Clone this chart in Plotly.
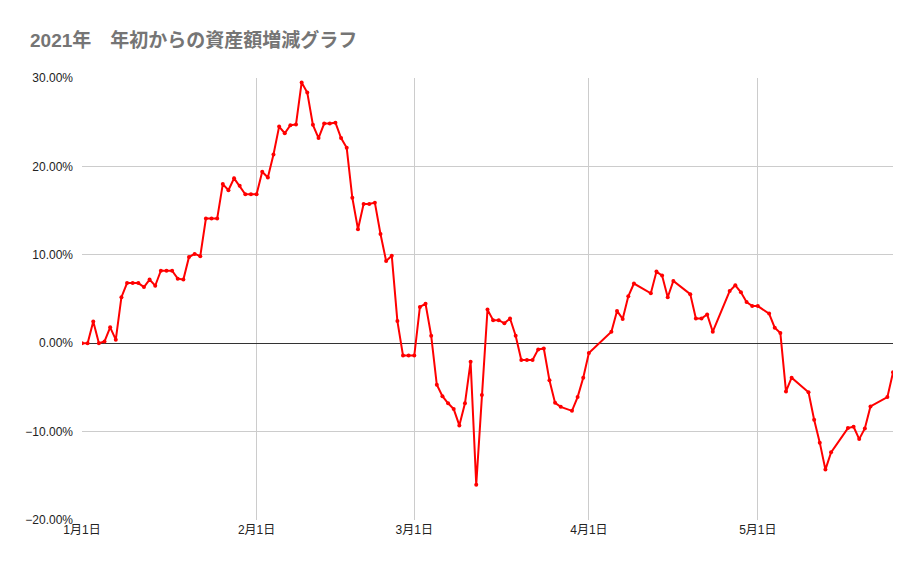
import pandas as pd
import plotly.graph_objs as go

# 2021 dates (some days missing in the source sheet)
dates = (
    pd.date_range('2021-01-01', '2021-03-27').strftime('%Y-%m-%d').tolist()
    + pd.date_range('2021-03-29', '2021-04-01').strftime('%Y-%m-%d').tolist()
    + ['2021-04-05', '2021-04-06', '2021-04-07', '2021-04-08', '2021-04-09',
       '2021-04-12', '2021-04-13', '2021-04-14', '2021-04-15', '2021-04-16',
       '2021-04-19', '2021-04-20', '2021-04-21', '2021-04-22', '2021-04-23',
       '2021-04-26', '2021-04-27', '2021-04-28', '2021-04-29', '2021-04-30',
       '2021-05-01', '2021-05-03', '2021-05-04', '2021-05-05', '2021-05-06',
       '2021-05-07', '2021-05-10', '2021-05-11', '2021-05-12', '2021-05-13',
       '2021-05-14', '2021-05-17', '2021-05-18', '2021-05-19', '2021-05-20',
       '2021-05-21', '2021-05-24', '2021-05-25']
)

# change in assets since Jan 1 (%)
jan = [0, 0, 2.45, 0, 0.2, 1.8, 0.4, 5.2, 6.8, 6.8, 6.8, 6.35, 7.2, 6.5, 8.2, 8.2,
       8.2, 7.3, 7.2, 9.75, 10.1, 9.85, 14.1, 14.1, 14.1, 18.0, 17.3, 18.65, 17.8,
       16.85, 16.85]
feb = [16.85, 19.4, 18.75, 21.35, 24.5, 23.75, 24.65, 24.75, 29.5, 28.35, 24.7,
       23.2, 24.85, 24.85, 24.95, 23.2, 22.1, 16.45, 12.9, 15.75, 15.75, 15.9,
       12.35, 9.3, 9.9, 2.5, -1.4, -1.4]
mar = [-1.4, 4.1, 4.45, 0.85, -4.7, -6.0, -6.8, -7.45, -9.3, -6.8, -2.1, -16.0,
       -5.85, 3.8, 2.6, 2.6, 2.25, 2.8, 0.85, -1.9, -1.9, -1.9, -0.7, -0.6, -4.2,
       -6.75, -7.2, -7.65, -6.1, -3.9]
apr = [-1.1, 1.3, 3.65, 2.75, 5.3, 6.75, 5.65, 8.1, 7.65, 5.2, 7.05, 5.55, 2.8,
       2.8, 3.25, 1.3, 5.9, 6.55, 5.75, 4.65, 4.2]
may = [4.2, 3.35, 1.75, 1.15, -5.45, -3.9, -5.55, -8.65, -11.25, -14.3, -12.35,
       -9.6, -9.45, -10.85, -9.65, -7.15, -6.1, -3.3]

values = [v / 100 for v in jan + feb + mar + apr + may]

tick_dates = ['2021-01-01', '2021-02-01', '2021-03-01', '2021-04-01', '2021-05-01']
tick_labels = ['1月1日', '2月1日', '3月1日', '4月1日', '5月1日']
y_ticks = [-0.2, -0.1, 0, 0.1, 0.2, 0.3]

trace = go.Scatter(
    x=dates,
    y=values,
    mode='lines+markers',
    line=dict(color='#ff0000', width=2),
    marker=dict(color='#ff0000', size=4),
    hoverinfo='x+y',
)

# page body has an 8px margin, so everything is shifted up/left by 8
layout = go.Layout(
    width=921,
    height=569,
    margin=dict(l=74, r=36, t=70, b=57),
    paper_bgcolor='white',
    plot_bgcolor='white',
    showlegend=False,
    font=dict(family='Arial, Liberation Sans, Noto Sans CJK JP', size=12, color='#222222'),
    title=dict(
        text='<b>2021年　年初からの資産額増減グラフ</b>',
        x=22 / 921, xanchor='left', xref='container',
        y=1 - 32 / 569, yanchor='middle', yref='container',
        font=dict(family='Arial, Liberation Sans, Noto Sans CJK JP', size=19, color='#757575'),
    ),
    xaxis=dict(
        range=['2021-01-01', '2021-05-25'],
        tickvals=tick_dates,
        ticktext=tick_labels,
        showgrid=True,
        gridcolor='#cccccc',
        gridwidth=1,
        zeroline=False,
        showline=False,
        ticks='',
        ticklabelstandoff=1,
    ),
    yaxis=dict(
        range=[-0.2, 0.3],
        tickvals=y_ticks,
        tickformat='.2%',
        showgrid=True,
        gridcolor='#cccccc',
        gridwidth=1,
        zeroline=True,
        zerolinecolor='#333333',
        zerolinewidth=1,
        ticks='',
        ticklabelstandoff=8,
    ),
)

fig = go.Figure(data=[trace], layout=layout)
fig.write_html('out.html')
